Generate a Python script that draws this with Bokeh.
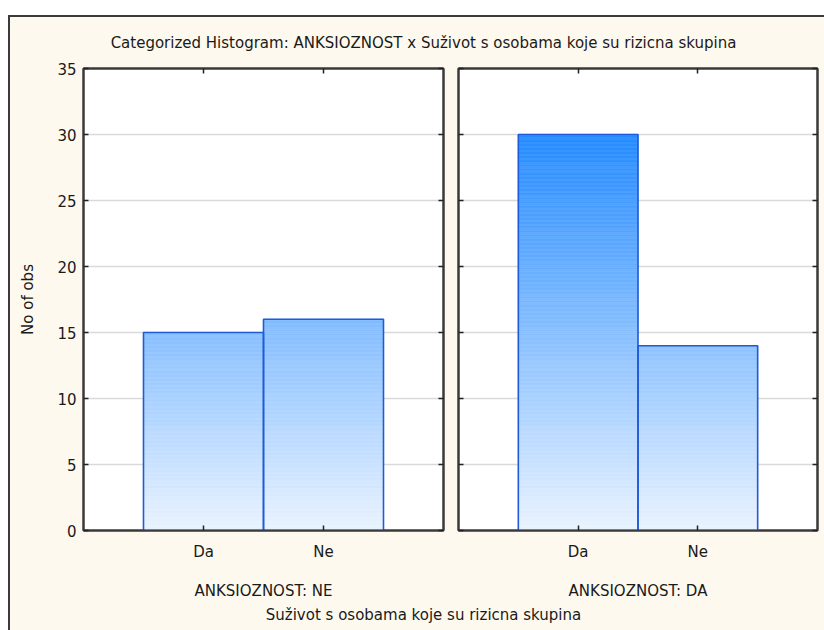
import numpy as np
from bokeh.plotting import figure
from bokeh.models import (FactorRange, Range1d, LinearAxis, CategoricalAxis, FixedTicker, Label,
                          CustomLabelingPolicy)
from bokeh.layouts import column, row
from bokeh.embed import file_html
from bokeh.resources import INLINE

# ---------------- data ----------------
title_text = "Categorized Histogram: ANKSIOZNOST x Suživot s osobama koje su rizicna skupina"
x_title = "Suživot s osobama koje su rizicna skupina"
y_title = "No of obs"
categories = ["Da", "Ne"]
panel_labels = ["ANKSIOZNOST: NE", "ANKSIOZNOST: DA"]
counts_ne = [15, 16]
counts_da = [30, 14]
y_ticks = [0, 5, 10, 15, 20, 25, 30, 35]

# ---------------- style ----------------
CREAM = "#FEF9EE"
FONT = "DejaVu Sans"
FS = "15px"
TXT = "#1a1a1a"
DARK = "#3a3a3a"
BAR_LINE = "#1F5BD8"
C0 = np.array([235, 244, 255])   # colour at 0
C1 = np.array([38, 140, 255])    # colour at 30

NO_LABELS = CustomLabelingPolicy(code="""
try { for (let i = 0; i < indices.size; i++) indices.unset(i) } catch (e) {}
return indices
""")


def grad_color(y):
    t = min(max(y / 30.0, 0.0), 1.05)
    c = C0 + (C1 - C0) * t
    c = np.clip(c, 0, 255).astype(int)
    return "#%02x%02x%02x" % tuple(c)


def style_axis(ax, labels=True):
    ax.axis_line_color = DARK
    ax.axis_line_width = 2
    ax.major_tick_line_color = "#222222"
    ax.major_tick_line_width = 1.5
    ax.major_tick_in = 5
    ax.major_tick_out = 0
    ax.minor_tick_in = 0
    ax.minor_tick_out = 0
    ax.major_label_text_font = FONT
    ax.major_label_text_color = TXT
    if labels:
        ax.major_label_text_font_size = FS
    else:
        ax.major_label_policy = NO_LABELS
        ax.major_label_text_font_size = "0px"
        ax.major_label_standoff = 0
    ax.axis_label_text_font = FONT
    ax.axis_label_text_font_size = FS
    ax.axis_label_text_font_style = "normal"
    ax.axis_label_text_color = TXT


def panel(counts, xlabel, first):
    p = figure(
        x_range=FactorRange(*categories, range_padding=0.5, range_padding_units="absolute"),
        y_range=Range1d(0, 35),
        frame_width=360 if first else 359,
        frame_height=462,
        min_border_left=73 if first else 8,
        min_border_right=7,
        min_border_top=8,
        min_border_bottom=68,
        toolbar_location=None,
        output_backend="svg",
    )
    p.background_fill_color = "white"
    p.border_fill_color = CREAM
    p.outline_line_color = DARK
    p.outline_line_width = 2

    # gradient bars made of thin slices
    xs, bots, tops, cols = [], [], [], []
    step = 0.1
    for cat, v in zip(categories, counts):
        edges = np.append(np.arange(0, v, step), v)
        for b, t in zip(edges[:-1], edges[1:]):
            xs.append(cat)
            bots.append(b)
            tops.append(t)
            cols.append(grad_color((b + t) / 2))
    p.vbar(x=xs, bottom=bots, top=tops, width=1, fill_color=cols,
           line_color=cols, line_width=0.6)
    p.vbar(x=categories, bottom=0, top=counts, width=1, fill_color=None,
           line_color=BAR_LINE, line_width=1.6)

    p.xgrid.visible = False
    p.ygrid.ticker = FixedTicker(ticks=y_ticks)
    p.ygrid.grid_line_color = "#D9D9D9"
    p.ygrid.grid_line_width = 1.5

    yax = p.yaxis[0]
    yax.ticker = FixedTicker(ticks=y_ticks)
    style_axis(yax, labels=first)
    if first:
        yax.major_label_standoff = 7
        yax.axis_label = y_title
        yax.axis_label_standoff = 17

    xax = p.xaxis[0]
    style_axis(xax)
    xax.major_label_standoff = 12
    xax.axis_label = xlabel
    xax.axis_label_standoff = 18

    rax = LinearAxis(ticker=FixedTicker(ticks=y_ticks))
    style_axis(rax, labels=False)
    p.add_layout(rax, "right")

    tax = CategoricalAxis()
    style_axis(tax, labels=False)
    p.add_layout(tax, "above")
    return p


p1 = panel(counts_ne, panel_labels[0], True)
p2 = panel(counts_da, panel_labels[1], False)

W = 814


def text_strip(txt, h, ypos):
    f = figure(width=W, height=h, x_range=Range1d(0, W), y_range=Range1d(0, h),
               min_border=0, toolbar_location=None, output_backend="svg")
    f.axis.visible = False
    f.grid.visible = False
    f.outline_line_color = None
    f.background_fill_color = CREAM
    f.border_fill_color = CREAM
    f.add_layout(Label(x=413, y=ypos, text=txt, text_align="center", text_baseline="middle",
                       text_font=FONT, text_font_size=FS, text_color=TXT))
    return f


header = text_strip(title_text, 43, 18)
footer = text_strip(x_title, 30, 18)

layout = column(header, row(p1, p2), footer,
                margin=(15, 0, 0, 8),
                styles={"border-left": "2px solid #3a3a3a", "border-top": "2px solid #3a3a3a",
                        "background-color": CREAM})

open("out.html", "w").write(file_html(layout, INLINE))
